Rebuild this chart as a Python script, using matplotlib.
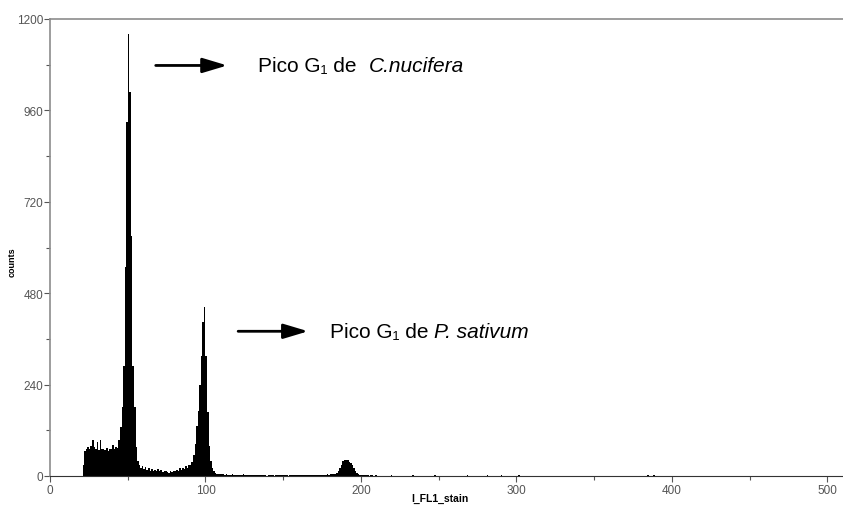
import matplotlib
matplotlib.use("Agg")
import matplotlib.pyplot as plt
import numpy as np
from matplotlib.ticker import MultipleLocator

plt.rcParams["font.family"] = ["Liberation Sans", "DejaVu Sans"]

# channel -> counts
first_channel = 21
main_counts = [
    30, 65, 72, 75, 70, 80, 95, 75, 70, 90,          # 21-30
    68, 95, 72, 70, 68, 74, 66, 72, 70, 82,          # 31-40
    70, 76, 74, 95, 128, 180, 290, 549, 929, 1160,   # 41-50
    1008, 630, 290, 180, 76, 40, 28, 22, 25, 18,     # 51-60
    24, 16, 20, 14, 18, 12, 16, 14, 18, 12,          # 61-70
    16, 10, 14, 12, 10, 8, 12, 10, 14, 12,           # 71-80
    16, 14, 20, 16, 22, 18, 26, 20, 30, 28,          # 81-90
    38, 55, 85, 130, 170, 240, 315, 404, 443, 315,   # 91-100
    168, 79, 40, 20, 12, 8, 6, 5, 4, 5,              # 101-110
    4, 3, 4, 3, 2, 3, 4, 2, 3, 3,                    # 111-120
    2, 3, 2, 4, 2, 3, 2, 2, 3, 2,                    # 121-130
    3, 2, 2, 3, 2, 2, 3, 2, 1, 2,                    # 131-140
    2, 3, 2, 1, 2, 2, 3, 2, 2, 3,                    # 141-150
    2, 2, 1, 2, 3, 2, 2, 3, 2, 2,                    # 151-160
    3, 2, 2, 3, 2, 3, 2, 2, 3, 3,                    # 161-170
    3, 2, 3, 3, 2, 3, 3, 4, 3, 4,                    # 171-180
    4, 5, 5, 8, 14, 22, 30, 40, 43, 42,              # 181-190
    43, 38, 35, 28, 20, 12, 8, 5, 3, 2,              # 191-200
    2, 3, 2, 2, 1, 2, 2, 1, 2, 1,                    # 201-210
]
noise_channels = [214, 219, 223, 228, 233, 240, 247, 255, 262, 268, 274,
                  281, 285, 290, 296, 301, 311, 373, 384, 386, 388,
                  464, 466, 497]
noise_counts = [1, 2, 1, 1, 2, 1, 2, 1, 1, 2, 1,
                2, 1, 2, 1, 2, 1, 1, 2, 1, 2,
                1, 1, 1]

label_prefix = "Pico G\u2081 de "
species = ["C.nucifera", "P. sativum"]

channels = np.arange(first_channel, first_channel + len(main_counts))

fig = plt.figure(figsize=(8.43, 5.06), dpi=100)
ax = fig.add_axes([50 / 843, 29 / 506, 793 / 843, 457 / 506])

ax.bar(channels, main_counts, width=1.0, align="edge", color="black", linewidth=0)
ax.bar(noise_channels, noise_counts, width=1.0, align="edge", color="black", linewidth=0)

ax.set_xlim(0, 510)
ax.set_ylim(0, 1200)
ax.xaxis.set_major_locator(MultipleLocator(100))
ax.xaxis.set_minor_locator(MultipleLocator(50))
ax.yaxis.set_major_locator(MultipleLocator(240))
ax.yaxis.set_minor_locator(MultipleLocator(120))
ax.tick_params(axis="both", which="major", labelsize=8.5, colors="#555555", length=4, width=0.8)
ax.tick_params(axis="both", which="minor", colors="#555555", length=3, width=0.8)
ax.tick_params(axis="x", pad=2)
ax.tick_params(axis="y", pad=1)

for side in ["top", "left"]:
    ax.spines[side].set_color("#8c8c8c")
    ax.spines[side].set_linewidth(1.2)
ax.spines["bottom"].set_color("#333333")
ax.spines["right"].set_visible(False)

fig.text(12 / 843, 1 - 262 / 506, "counts", rotation=90, fontsize=6.5, fontweight="bold",
         ha="center", va="center")
fig.text(440 / 843, 1 - 499 / 506, "I_FL1_stain", fontsize=7.5, fontweight="bold",
         ha="center", va="center")

# peak annotations: arrow, upright prefix, italic species name
arrow_kw = dict(arrowstyle="-|>,head_length=1.5,head_width=0.45", color="black", lw=2,
                shrinkA=0, shrinkB=0)
ax.annotate("", xy=(114, 1078), xytext=(68, 1078), arrowprops=arrow_kw)
t1 = ax.text(134, 1078, label_prefix + " ", fontsize=15, va="center")
ax.annotate(species[0], xy=(1, 0.5), xycoords=t1, va="center", fontsize=15, style="italic")

ax.annotate("", xy=(166, 380), xytext=(121, 380), arrowprops=arrow_kw)
t2 = ax.text(180, 380, label_prefix, fontsize=15, va="center")
ax.annotate(species[1], xy=(1, 0.5), xycoords=t2, va="center", fontsize=15, style="italic")

fig.savefig("out.png", dpi=100)
